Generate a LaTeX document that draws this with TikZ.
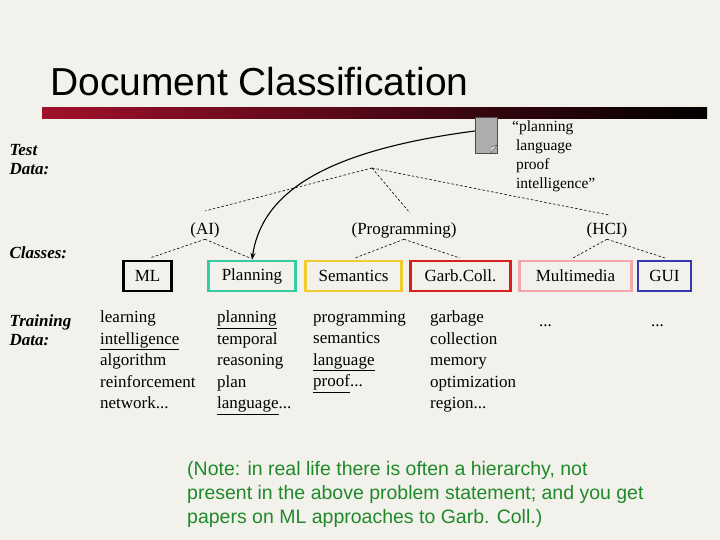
\documentclass[tikz,border=0pt]{standalone}
\usepackage{fontspec}
\setmainfont{Liberation Serif}
\newfontfamily\sansf{Liberation Sans}
\usetikzlibrary{arrows.meta}
\definecolor{bg}{HTML}{F3F1EC}
\definecolor{barred}{HTML}{A0102A}
\definecolor{notegreen}{HTML}{1F8A2A}
\definecolor{cteal}{HTML}{33CCA0}
\definecolor{cyell}{HTML}{F0CC30}
\definecolor{cred}{HTML}{D81E1E}
\definecolor{cpink}{HTML}{F0A8A8}
\definecolor{cblue}{HTML}{3838B0}
\tikzset{
  cls/.style={draw=#1, line width=2.2pt, minimum height=30pt, inner sep=0pt, font=\fontsize{17}{18}\selectfont},
  lbl/.style={font=\fontsize{17}{19}\selectfont\bfseries\itshape, align=left, anchor=west},
  grp/.style={font=\fontsize{17}{18}\selectfont},
  tree/.style={dashed, dash pattern=on 2.5pt off 2pt, line width=0.6pt},
  col/.style={font=\fontsize{17}{21.5}\selectfont, align=left, anchor=north west, inner sep=0pt},
}
\begin{document}
\begin{tikzpicture}[x=1pt,y=-1pt]
\fill[bg] (0,0) rectangle (720,540);
\useasboundingbox (0,0) rectangle (720,540);
\node[anchor=west, font=\sansf\fontsize{39}{44}\selectfont, inner sep=0pt] (title) at (50,82) {Document Classification};
\shade[left color=barred, right color=black] (42,108) rectangle (707,119);
% document icon
\node[draw=black!70, fill=black!32, minimum width=22pt, minimum height=36pt, inner sep=0pt] (doc) at (486,135) {};
\draw[black!70, fill=white!85!black] (491,153) -- (497,145) -- (491,147) -- cycle;
\node[font=\fontsize{15.5}{19}\selectfont, align=left, anchor=north west, inner sep=0pt] (query) at (512,121) {``planning\\\ language\\\ proof\\\ intelligence''};
\node[lbl] (test) at (6,160) {Test\\Data:};
\node[lbl] (classes) at (6,253) {Classes:};
\node[lbl] (train) at (6,330) {Training\\Data:};
\coordinate (root) at (372,168);
\node[grp] (ai) at (205,230) {(AI)};
\node[grp] (prog) at (404,230) {(Programming)};
\node[grp] (hci) at (607,230) {(HCI)};
\draw[tree] (root) -- (205,211);
\draw[tree] (root) -- (410,213);
\draw[tree] (root) -- (609,215);
\node[cls=black, minimum width=48pt] (ml) at (147.5,276) {ML};
\node[cls=cteal, minimum width=87pt] (plan) at (252,276) {Planning};
\node[cls=cyell, minimum width=96pt] (sem) at (353.5,276) {Semantics};
\node[cls=cred, minimum width=100pt] (garb) at (460.5,276) {Garb.Coll.};
\node[cls=cpink, minimum width=112pt] (mm) at (575.5,276) {Multimedia};
\node[cls=cblue, minimum width=53pt] (gui) at (664.5,276) {GUI};
\draw[tree] (ai.south) ++(0,-2) coordinate (aib) (aib) -- (150,258) (aib) -- (250,258);
\draw[tree] (prog.south) ++(0,-2) coordinate (pb) (pb) -- (355,258) (pb) -- (460,258);
\draw[tree] (hci.south) ++(0,-2) coordinate (hb) (hb) -- (573,258) (hb) -- (665,258);
\draw[-{Stealth[length=7pt,width=5pt]}, line width=1.1pt] (doc.west) ++(0,-4) .. controls (330,150) and (262,190) .. (plan.north);
\node[col] (c1) at (100,311) {learning\\\underline{intelligence}\\algorithm\\reinforcement\\network...};
\node[col] (c2) at (217,311) {\underline{planning}\\temporal\\reasoning\\plan\\\underline{language}...};
\node[col] (c3) at (313,311) {programming\\semantics\\\underline{language}\\\underline{proof}...};
\node[col] (c4) at (430,311) {garbage\\collection\\memory\\optimization\\region...};
\node[col] (c5) at (539,311) {\strut...};
\node[col] (c6) at (651,311) {\strut...};
\node[font=\sansf\fontsize{19.5}{24}\selectfont, text=notegreen, align=left, anchor=north west, inner sep=0pt] (note) at (187,461) {(Note: in real life there is often a hierarchy, not\\present in the above problem statement; and you get\\papers on ML approaches to Garb. Coll.)};
\end{tikzpicture}
\end{document}
